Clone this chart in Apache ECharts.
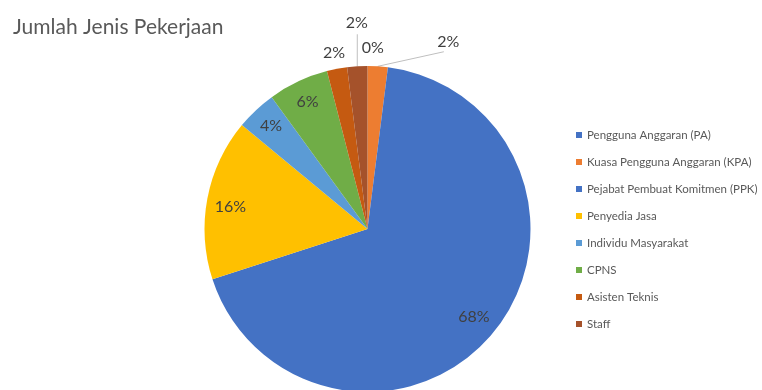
<!DOCTYPE html>
<html>
<head>
<meta charset="utf-8">
<script src="https://cdn.jsdelivr.net/npm/echarts@6/dist/echarts.min.js"></script>
<style>
  html, body { margin: 0; padding: 0; background: #ffffff; }
  #chart { width: 762px; height: 390px; }
</style>
</head>
<body>
<div id="chart"></div>
<script>
// Job categories and their share (percent) of the total
const categories = [
  'Pengguna Anggaran (PA)',
  'Kuasa Pengguna Anggaran (KPA)',
  'Pejabat Pembuat Komitmen (PPK)',
  'Penyedia Jasa',
  'Individu Masyarakat',
  'CPNS',
  'Asisten Teknis',
  'Staff'
];
const shares = [0, 2, 68, 16, 4, 6, 2, 2];
const sliceColors = ['#4472C4', '#ED7D31', '#4472C4', '#FFC000', '#5B9BD5', '#70AD47', '#C55A11', '#A5522B'];

// Pie geometry (px)
const CX = 367.5, CY = 229, R = 163;

// Label placement: distance from centre and angular nudge (deg) per slice
const labelDist = [181, 204, 138, 139, 141, 141, 179, 206];
const labelTurn = [1.7, 19.7, 0, -1.5, 0, 0, 0, 0.6];
const withLeader = [false, true, false, false, false, false, false, true];

const total = shares.reduce((a, b) => a + b, 0);
const midAngles = [];
let acc = 0;
shares.forEach(v => {
  midAngles.push((acc + v / 2) / total * 360);
  acc += v;
});

function polar(deg, r) {
  const a = deg * Math.PI / 180;
  return [CX + r * Math.sin(a), CY - r * Math.cos(a)];
}

const chart = echarts.init(document.getElementById('chart'));

chart.setOption({
  animation: false,
  color: sliceColors,
  title: {
    text: 'Jumlah Jenis Pekerjaan',
    left: 8,
    top: 12,
    textStyle: { fontFamily: 'Lato', fontSize: 21, fontWeight: 'normal', color: '#595959' }
  },
  legend: {
    orient: 'vertical',
    left: 571,
    top: 123,
    icon: 'rect',
    itemWidth: 6,
    itemHeight: 6,
    itemGap: 13,
    data: categories,
    textStyle: { fontFamily: 'Lato', fontSize: 11.5, color: '#595959', lineHeight: 14, padding: [0, 0, 0, 0] }
  },
  series: [{
    type: 'pie',
    center: [CX, CY],
    radius: R,
    startAngle: 90,
    clockwise: true,
    avoidLabelOverlap: false,
    itemStyle: { borderWidth: 0 },
    data: categories.map((name, i) => ({
      name: name,
      value: shares[i],
      labelLine: { show: withLeader[i], lineStyle: { color: '#BFBFBF', width: 1 } }
    })),
    label: {
      show: true,
      position: 'outside',
      formatter: p => p.value + '%',
      fontFamily: 'Lato',
      fontSize: 16,
      color: '#404040'
    },
    labelLayout: function (params) {
      const i = params.dataIndex;
      const ang = midAngles[i] + labelTurn[i];
      const p = polar(ang, labelDist[i]);
      const out = { x: p[0], y: p[1], align: 'center', verticalAlign: 'middle' };
      if (withLeader[i]) {
        const start = polar(midAngles[i], R);
        const end = polar(ang, labelDist[i] - 11);
        out.labelLinePoints = [start, end, end];
      }
      return out;
    }
  }]
});
</script>
</body>
</html>
